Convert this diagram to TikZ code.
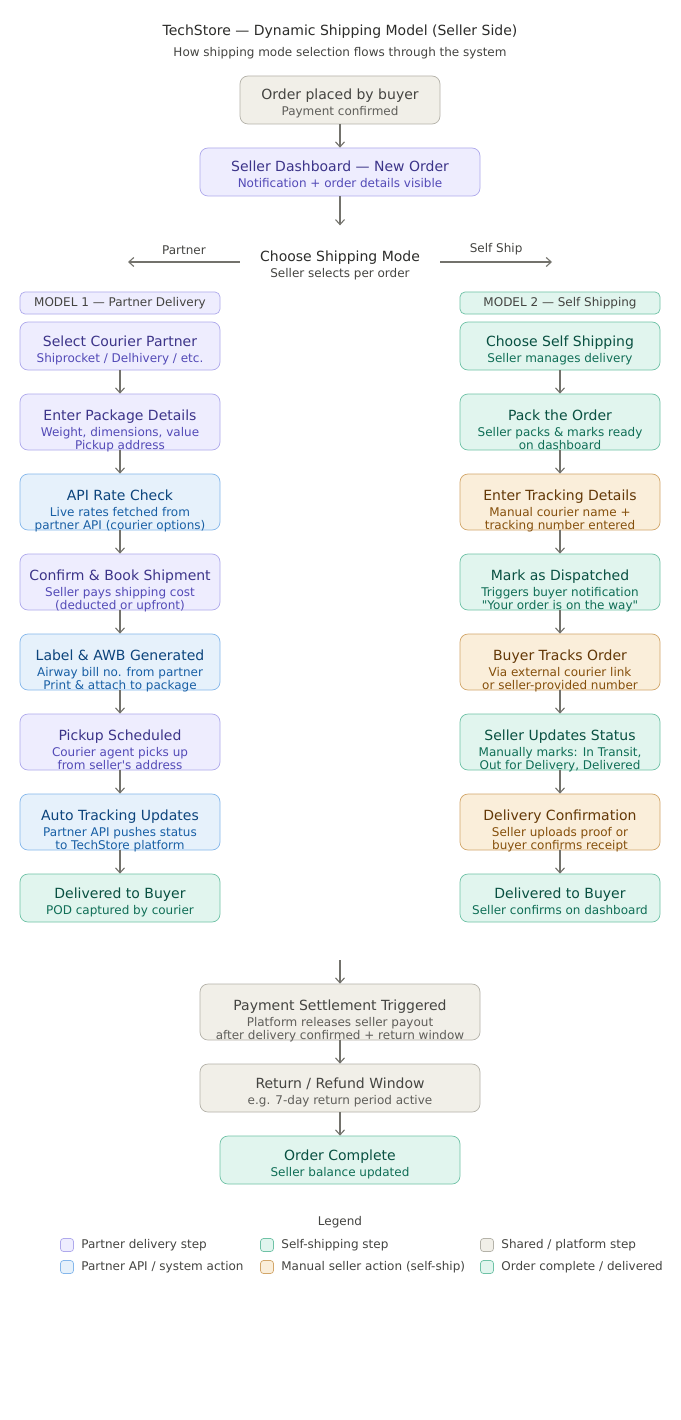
\documentclass[tikz,border=0pt]{standalone}
\usepackage{fontspec}
\setmainfont{DejaVu Sans}
\usepackage{tikz}
\usetikzlibrary{positioning, arrows.meta}
\definecolor{shfill}{HTML}{F1EFE8}
\definecolor{shline}{HTML}{B4B2A9}
\definecolor{shtxt}{HTML}{444441}
\definecolor{shsub}{HTML}{5F5E5A}
\definecolor{ptfill}{HTML}{EEEDFE}
\definecolor{ptline}{HTML}{AFA9EC}
\definecolor{pttxt}{HTML}{3C3489}
\definecolor{ptsub}{HTML}{534AB7}
\definecolor{apifill}{HTML}{E6F1FB}
\definecolor{apiline}{HTML}{85B7EB}
\definecolor{apitxt}{HTML}{0C447C}
\definecolor{apisub}{HTML}{185FA5}
\definecolor{slffill}{HTML}{E1F5EE}
\definecolor{slfline}{HTML}{6FC2A6}
\definecolor{slftxt}{HTML}{085041}
\definecolor{slfsub}{HTML}{0F6E56}
\definecolor{manfill}{HTML}{FAEEDA}
\definecolor{manline}{HTML}{D2A66A}
\definecolor{mantxt}{HTML}{633806}
\definecolor{mansub}{HTML}{854F0B}
\definecolor{arrowgray}{HTML}{73726C}
\definecolor{headtxt}{HTML}{2C2C2A}
\def\subc{shsub}
\newcommand{\subl}[1]{{\fontsize{12}{14}\selectfont\color{\subc}#1}}
\tikzset{
  subc/.code={\def\subc{#1}},
  card/.style={
    draw, rounded corners=8pt, line width=0.7pt,
    font=\fontsize{14}{16}\selectfont, align=center,
    minimum width=200pt, minimum height=48pt, inner sep=0pt,
    text height=40pt, text depth=8pt
  },
  tall/.style={minimum height=56pt, text height=55pt, text depth=1pt},
  shared/.style={card, fill=shfill, draw=shline, text=shtxt, subc=shsub},
  partner/.style={card, fill=ptfill, draw=ptline, text=pttxt, subc=ptsub},
  apicall/.style={card, fill=apifill, draw=apiline, text=apitxt, subc=apisub},
  selfship/.style={card, fill=slffill, draw=slfline, text=slftxt, subc=slfsub},
  manual/.style={card, fill=manfill, draw=manline, text=mantxt, subc=mansub},
  header/.style={
    draw, rounded corners=5pt, line width=0.7pt, text=shtxt,
    font=\fontsize{12}{14}\selectfont,
    minimum width=200pt, minimum height=22pt, inner sep=0pt
  },
  swatch/.style={
    draw, rounded corners=3pt, line width=0.7pt,
    minimum size=13pt, inner sep=0pt
  },
  legtext/.style={right, text=shtxt, font=\fontsize{12}{14}\selectfont},
  flow/.style={-{Straight Barb[length=5pt, width=9pt]}, line width=1.1pt, arrowgray}
}

\begin{document}
\begin{tikzpicture}[x=1pt, y=-1pt]
  \useasboundingbox[fill=white] (0,0) rectangle (680,1420);
  % title
  \node[text=headtxt, font=\fontsize{14}{17}\selectfont] (title) at (340,32) {TechStore — Dynamic Shipping Model (Seller Side)};
  \node[text=shtxt, font=\fontsize{12}{14}\selectfont] (subtitle) at (340,53) {How shipping mode selection flows through the system};
  % entry
  \node[shared] (order) at (340,100) {Order placed by buyer\\\subl{Payment confirmed}};
  \node[partner, minimum width=280pt] (dash) at (340,172) {Seller Dashboard — New Order\\\subl{Notification + order details visible}};
  \node[text=headtxt, align=center, font=\fontsize{14}{16}\selectfont, minimum width=200pt, inner sep=0pt,
    anchor=base] (choose) at (340,278)
    {Choose Shipping Mode\\{\fontsize{12}{14}\selectfont\color{shtxt}Seller selects per order}};
  \coordinate (leftend) at (128,262);
  \coordinate (rightend) at (552,262);
  \draw[flow] (order) -- (dash);
  \draw[flow] (dash.south) -- ++(0,29);
  \draw[flow] (choose.west |- leftend) -- node[above=3pt, text=shtxt, font=\fontsize{12}{14}\selectfont] {Partner} (leftend);
  \draw[flow] (choose.east |- rightend) -- node[above=3pt, text=shtxt, font=\fontsize{12}{14}\selectfont] {Self Ship} (rightend);
  % model 1
  \node[header, fill=ptfill, draw=ptline] (m1) at (120,303) {MODEL 1 — Partner Delivery};
  \node[partner] (p1) at (120,346) {Select Courier Partner\\\subl{Shiprocket / Delhivery / etc.}};
  \node[partner, tall] (p2) at (120,422) {Enter Package Details\\\subl{Weight, dimensions, value}\\[-3pt]\subl{Pickup address}};
  \node[apicall, tall] (p3) at (120,502) {API Rate Check\\\subl{Live rates fetched from}\\[-3pt]\subl{partner API (courier options)}};
  \node[partner, tall] (p4) at (120,582) {Confirm \& Book Shipment\\\subl{Seller pays shipping cost}\\[-3pt]\subl{(deducted or upfront)}};
  \node[apicall, tall] (p5) at (120,662) {Label \& AWB Generated\\\subl{Airway bill no. from partner}\\[-3pt]\subl{Print \& attach to package}};
  \node[partner, tall] (p6) at (120,742) {Pickup Scheduled\\\subl{Courier agent picks up}\\[-3pt]\subl{from seller\textquotesingle s address}};
  \node[apicall, tall] (p7) at (120,822) {Auto Tracking Updates\\\subl{Partner API pushes status}\\[-3pt]\subl{to TechStore platform}};
  \node[selfship] (p8) at (120,898) {Delivered to Buyer\\\subl{POD captured by courier}};
  % model 2
  \node[header, fill=slffill, draw=slfline] (m2) at (560,303) {MODEL 2 — Self Shipping};
  \node[selfship] (s1) at (560,346) {Choose Self Shipping\\\subl{Seller manages delivery}};
  \node[selfship, tall] (s2) at (560,422) {Pack the Order\\\subl{Seller packs \& marks ready}\\[-3pt]\subl{on dashboard}};
  \node[manual, tall] (s3) at (560,502) {Enter Tracking Details\\\subl{Manual courier name +}\\[-3pt]\subl{tracking number entered}};
  \node[selfship, tall] (s4) at (560,582) {Mark as Dispatched\\\subl{Triggers buyer notification}\\[-3pt]\subl{\textquotedbl Your order is on the way\textquotedbl}};
  \node[manual, tall] (s5) at (560,662) {Buyer Tracks Order\\\subl{Via external courier link}\\[-3pt]\subl{or seller-provided number}};
  \node[selfship, tall] (s6) at (560,742) {Seller Updates Status\\\subl{Manually marks: In Transit,}\\[-3pt]\subl{Out for Delivery, Delivered}};
  \node[manual, tall] (s7) at (560,822) {Delivery Confirmation\\\subl{Seller uploads proof or}\\[-3pt]\subl{buyer confirms receipt}};
  \node[selfship] (s8) at (560,898) {Delivered to Buyer\\\subl{Seller confirms on dashboard}};
  \foreach \a/\b in {p1/p2, p2/p3, p3/p4, p4/p5, p5/p6, p6/p7, p7/p8,
                     s1/s2, s2/s3, s3/s4, s4/s5, s5/s6, s6/s7, s7/s8}
    \draw[flow] (\a) -- (\b);
  % settlement
  \coordinate (merge) at (340,960);
  \node[shared, tall, minimum width=280pt] (settle) at (340,1012) {Payment Settlement Triggered\\\subl{Platform releases seller payout}\\[-3pt]\subl{after delivery confirmed + return window}};
  \node[shared, minimum width=280pt] (refund) at (340,1088) {Return / Refund Window\\\subl{e.g. 7-day return period active}};
  \node[selfship, minimum width=240pt] (done) at (340,1160) {Order Complete\\\subl{Seller balance updated}};
  \draw[flow] (merge) -- (settle);
  \draw[flow] (settle) -- (refund);
  \draw[flow] (refund) -- (done);
  % legend
  \node[text=shtxt, font=\fontsize{12}{14}\selectfont] (legend) at (340,1222) {Legend};
  \node[swatch, fill=ptfill, draw=ptline] (k1) at (67,1245) {};
  \node[legtext] at (k1.east) [xshift=4pt] {Partner delivery step};
  \node[swatch, fill=slffill, draw=slfline] (k2) at (267,1245) {};
  \node[legtext] at (k2.east) [xshift=4pt] {Self-shipping step};
  \node[swatch, fill=shfill, draw=shline] (k3) at (487,1245) {};
  \node[legtext] at (k3.east) [xshift=4pt] {Shared / platform step};
  \node[swatch, fill=apifill, draw=apiline] (k4) at (67,1267) {};
  \node[legtext] at (k4.east) [xshift=4pt] {Partner API / system action};
  \node[swatch, fill=manfill, draw=manline] (k5) at (267,1267) {};
  \node[legtext] at (k5.east) [xshift=4pt] {Manual seller action (self-ship)};
  \node[swatch, fill=slffill, draw=slfline] (k6) at (487,1267) {};
  \node[legtext] at (k6.east) [xshift=4pt] {Order complete / delivered};
\end{tikzpicture}
\end{document}
